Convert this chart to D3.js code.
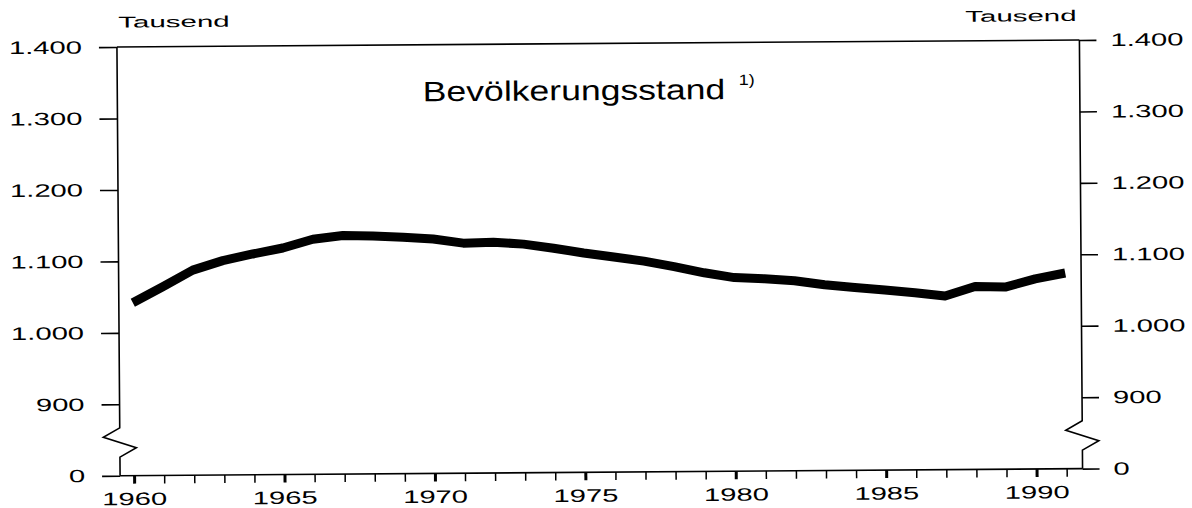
<!DOCTYPE html>
<html>
<head>
<meta charset="utf-8">
<script src="https://cdn.jsdelivr.net/npm/d3@7"></script>
<style>
  html, body { margin: 0; padding: 0; background: #fff; }
  svg { display: block; }
  text { font-family: "Liberation Sans", Arial, Helvetica, sans-serif; fill: #000; }
</style>
</head>
<body>
<svg id="chart" width="1192" height="508"></svg>
<script>
// ---- data ----
const years = [1960, 1961, 1962, 1963, 1964, 1965, 1966, 1967, 1968, 1969,
               1970, 1971, 1972, 1973, 1974, 1975, 1976, 1977, 1978, 1979,
               1980, 1981, 1982, 1983, 1984, 1985, 1986, 1987, 1988, 1989,
               1990, 1991];
const population = [1042, 1064, 1087, 1100, 1109, 1117, 1129, 1134, 1133, 1131,
                    1128, 1122, 1123, 1120, 1114, 1107, 1101, 1095, 1087, 1078,
                    1071, 1069, 1066, 1060, 1056, 1052, 1048, 1043, 1056, 1055,
                    1066, 1074];
const xLabelYears = [1960, 1965, 1970, 1975, 1980, 1985, 1990];
const yTickValues = [800, 900, 1000, 1100, 1200, 1300, 1400];   // 800 = axis break, shown as "0"
const yTickLabels = ["0", "900", "1.000", "1.100", "1.200", "1.300", "1.400"];
const unitLabel = "Tausend";
const titleText = "Bevölkerungsstand";
const footnoteMark = "1)";

// ---- layout ----
const svg = d3.select("#chart");
const root = svg.append("g").attr("transform", "rotate(-0.42, 600, 258)");

const xLeft = 118.5, xRight = 1081;
const x = d3.scaleLinear().domain([1960, 1990]).range([132.5, 1035]);
const y = d3.scaleLinear().domain([800, 1400]).range([472.2, 43.5]);

function stretch(sel, k) {
  sel.each(function () {
    const w = this.getComputedTextLength();
    this.setAttribute("textLength", w * k);
    this.setAttribute("lengthAdjust", "spacingAndGlyphs");
  });
}

const labelMap = new Map(yTickValues.map((v, i) => [v, yTickLabels[i]]));

// frame top & bottom
root.append("line").attr("x1", xLeft).attr("x2", xRight)
  .attr("y1", y(1400)).attr("y2", y(1400)).attr("stroke", "#000").attr("stroke-width", 1.6);
root.append("line").attr("x1", xLeft).attr("x2", xRight)
  .attr("y1", y(800)).attr("y2", y(800)).attr("stroke", "#000").attr("stroke-width", 1.6);

// vertical axis lines with break zigzag
const breakLine = d3.line().x(d => d[0]).y(d => y(d[1]));
function axisWithBreak(ax) {
  return [[ax, 1400], [ax, 867], [ax - 16.5, 854], [ax + 16.5, 839], [ax, 826], [ax, 800]];
}
[xLeft, xRight].forEach(ax => {
  root.append("path").attr("d", breakLine(axisWithBreak(ax)))
    .attr("fill", "none").attr("stroke", "#000").attr("stroke-width", 1.6);
});

// left axis
const gL = root.append("g").attr("transform", `translate(${xLeft},0)`)
  .call(d3.axisLeft(y).tickValues(yTickValues).tickSize(18).tickPadding(17)
    .tickFormat(v => labelMap.get(v)));
gL.select(".domain").remove();
gL.selectAll(".tick line").attr("stroke", "#000").attr("stroke-width", 1.6);
gL.selectAll(".tick text").attr("font-size", 18).attr("font-family", null).attr("fill", "#000")
  .call(stretch, 1.62);

// right axis
const gR = root.append("g").attr("transform", `translate(${xRight},0)`)
  .call(d3.axisRight(y).tickValues(yTickValues).tickSize(17).tickPadding(14)
    .tickFormat(v => labelMap.get(v)));
gR.select(".domain").remove();
gR.selectAll(".tick line").attr("stroke", "#000").attr("stroke-width", 1.6);
gR.selectAll(".tick text").attr("font-size", 18).attr("font-family", null).attr("fill", "#000")
  .call(stretch, 1.62);

// bottom axis
const gB = root.append("g").attr("transform", `translate(0,${y(800)})`)
  .call(d3.axisBottom(x).tickValues(years).tickSize(8).tickPadding(8.7)
    .tickFormat(v => xLabelYears.includes(v) ? String(v) : ""));
gB.select(".domain").remove();
gB.selectAll(".tick line").attr("stroke", "#000")
  .attr("stroke-width", d => xLabelYears.includes(d) ? 3 : 1.5);
gB.selectAll(".tick text").attr("font-size", 18).attr("font-family", null).attr("fill", "#000")
  .filter(d => xLabelYears.includes(d)).call(stretch, 1.62);

// unit labels
root.append("text").attr("x", 120).attr("y", 24).attr("font-size", 15.5)
  .text(unitLabel).call(stretch, 1.9);
root.append("text").attr("x", 967).attr("y", 24.5).attr("font-size", 15.5)
  .text(unitLabel).call(stretch, 1.9);

// title
root.append("text").attr("x", 424).attr("y", 100).attr("font-size", 28)
  .text(titleText).call(stretch, 1.27);
root.append("text").attr("x", 740).attr("y", 86).attr("font-size", 15)
  .text(footnoteMark).call(stretch, 1.2);

// data line
const line = d3.line().x((d, i) => x(years[i])).y(d => y(d));
root.append("path").datum(population)
  .attr("d", line)
  .attr("fill", "none").attr("stroke", "#000")
  .attr("stroke-width", 9).attr("stroke-linejoin", "round").attr("stroke-linecap", "butt");
</script>
</body>
</html>
